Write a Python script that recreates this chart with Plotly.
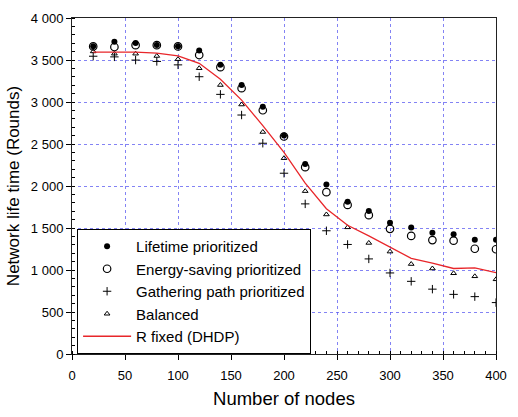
import plotly.graph_objects as go

nodes = [20, 40, 60, 80, 100, 120, 140, 160, 180, 200, 220, 240, 260, 280, 300, 320, 340, 360, 380, 400]
lifetime = [3665, 3716, 3701, 3680, 3665, 3613, 3442, 3202, 2943, 2600, 2262, 2019, 1813, 1703, 1562, 1505, 1444, 1425, 1360, 1360]
energy = [3662, 3655, 3677, 3677, 3662, 3559, 3415, 3164, 2902, 2589, 2224, 1927, 1775, 1653, 1490, 1406, 1356, 1349, 1253, 1247]
gathering = [3545, 3537, 3499, 3483, 3442, 3301, 3091, 2845, 2509, 2152, 1787, 1467, 1304, 1132, 965, 865, 772, 710, 683, 612]
balanced = [3602, 3575, 3575, 3548, 3510, 3402, 3202, 2970, 2643, 2331, 1939, 1661, 1508, 1322, 1219, 1071, 1018, 961, 925, 889]
r_fixed = [3594, 3598, 3594, 3583, 3548, 3461, 3270, 3023, 2719, 2400, 2034, 1729, 1532, 1406, 1273, 1139, 1082, 1018, 1025, 968]

FONT = "Liberation Sans, Arial, sans-serif"

fig = go.Figure()
fig.add_trace(go.Scatter(x=nodes, y=lifetime, mode="markers", name="Lifetime prioritized",
                         marker=dict(symbol="circle", size=6, color="black")))
fig.add_trace(go.Scatter(x=nodes, y=energy, mode="markers", name="Energy-saving prioritized",
                         marker=dict(symbol="circle-open", size=7.5, color="black", line=dict(width=1.2))))
fig.add_trace(go.Scatter(x=nodes, y=gathering, mode="markers", name="Gathering path prioritized",
                         marker=dict(symbol="cross-thin-open", size=6, color="black", line=dict(width=1, color="black"))))
fig.add_trace(go.Scatter(x=nodes, y=balanced, mode="markers", name="Balanced",
                         marker=dict(symbol="triangle-up-open", size=5, color="black", line=dict(width=1))))
fig.add_trace(go.Scatter(x=nodes, y=r_fixed, mode="lines", name="R fixed (DHDP)",
                         line=dict(color="#e8262a", width=1.3)))

grid = dict(showgrid=True, gridcolor="rgba(90,90,240,0.75)", griddash="dot", gridwidth=1)

fig.update_xaxes(range=[0, 400], dtick=50, tick0=0, **grid,
                 showline=True, linecolor="#222", linewidth=1, mirror=True,
                 ticks="outside", ticklen=5, tickcolor="black", ticklabelstandoff=4,
                 minor=dict(dtick=10, ticks="inside", ticklen=3, tickcolor="black", showgrid=False),
                 tickfont=dict(family=FONT, size=13, color="black"),
                 title=dict(text="Number of nodes", font=dict(family=FONT, size=18.5, color="black"), standoff=10),
                 zeroline=False)
fig.update_yaxes(range=[0, 4000], dtick=500, tick0=0, **grid,
                 showline=True, linecolor="#222", linewidth=1, mirror=True,
                 ticks="outside", ticklen=5, tickcolor="black",
                 minor=dict(dtick=100, ticks="inside", ticklen=3, tickcolor="black", showgrid=False),
                 tickformat=",d",
                 tickfont=dict(family=FONT, size=13, color="black"),
                 title=dict(text="Network life time (Rounds)", font=dict(family=FONT, size=17, color="black"), standoff=6),
                 zeroline=False)

fig.update_layout(
    width=518, height=417,
    margin=dict(l=72, r=12, t=11, b=56),
    paper_bgcolor="white", plot_bgcolor="white",
    separators=". ",
    showlegend=True,
    legend=dict(x=0.012, y=0.372, xanchor="left", yanchor="top",
                bgcolor="white", bordercolor="black", borderwidth=1,
                font=dict(family=FONT, size=15, color="black"),
                itemwidth=48, tracegroupgap=0),
    font=dict(family=FONT),
)

fig.write_html("out.html")
